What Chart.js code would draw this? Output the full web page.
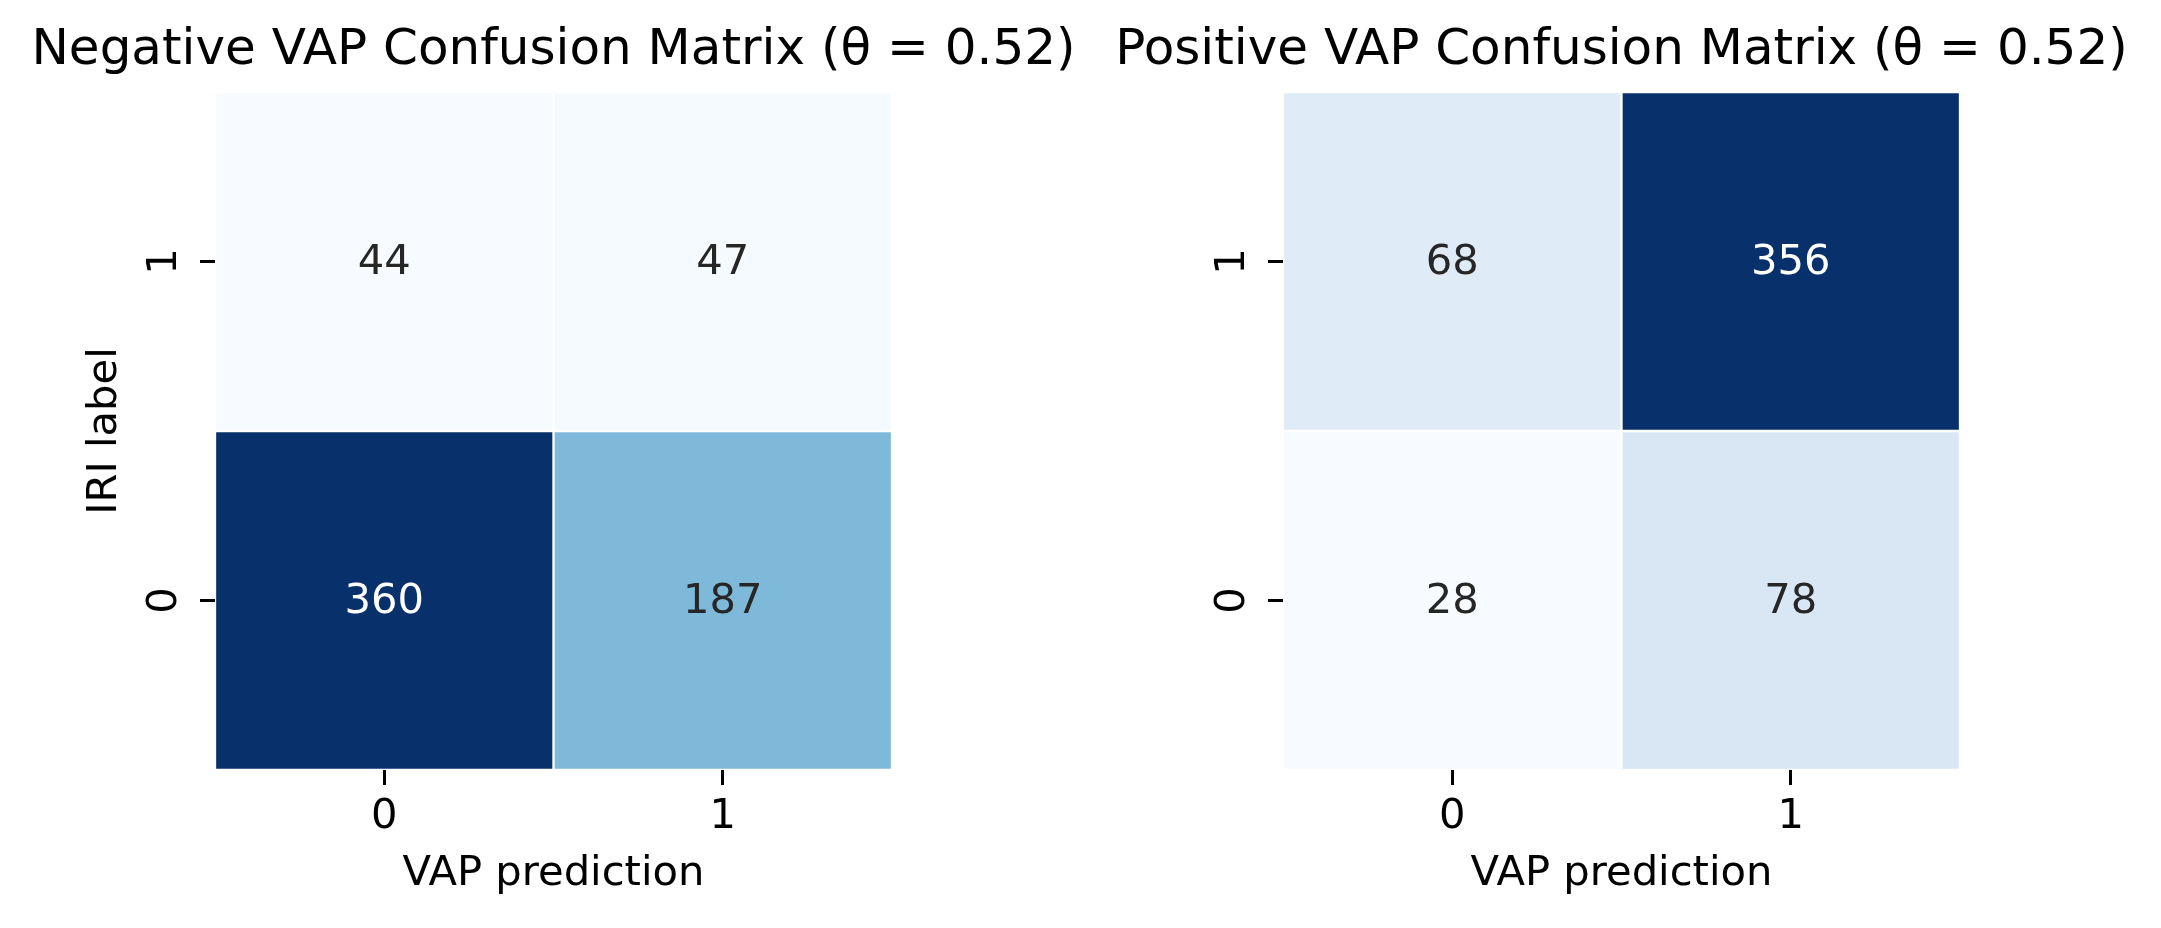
<!DOCTYPE html>
<html>
<head>
<meta charset="utf-8">
<script src="https://cdn.jsdelivr.net/npm/chart.js@4.4.0/dist/chart.umd.min.js"></script>
<style>
  html, body { margin: 0; padding: 0; background: #fff; }
  #page { position: relative; width: 2161px; height: 928px; overflow: hidden; }
  .panel { position: absolute; top: 0; width: 1107px; height: 928px; }
  #neg-panel { left: 0; }
  #pos-panel { left: 1068px; }
</style>
</head>
<body>
<div id="page">
  <div class="panel" id="neg-panel"><canvas id="negChart"></canvas></div>
  <div class="panel" id="pos-panel"><canvas id="posChart"></canvas></div>
</div>

<script>
// categories / tick labels
const predLabels = ['0', '1'];      // x: VAP prediction
const iriLabels = ['0', '1'];       // y: IRI label, bottom row first

// confusion matrix counts, one array per row (IRI label)
const negRow0 = [360, 187];
const negRow1 = [44, 47];
const posRow0 = [28, 78];
const posRow1 = [68, 356];

const negTitle = 'Negative VAP Confusion Matrix (\u03b8 = 0.52)';
const posTitle = 'Positive VAP Confusion Matrix (\u03b8 = 0.52)';

// matplotlib "Blues"
const bluesStops = ['#f7fbff', '#deebf7', '#c6dbef', '#9ecae1', '#6baed6',
                    '#4292c6', '#2171b5', '#08519c', '#08306b'];

function hexToRgb(h) {
    return [parseInt(h.substr(1, 2), 16), parseInt(h.substr(3, 2), 16), parseInt(h.substr(5, 2), 16)];
}

function bluesAt(t) {
    t = Math.max(0, Math.min(1, t));
    const pos = t * (bluesStops.length - 1);
    const i = Math.min(Math.floor(pos), bluesStops.length - 2);
    const f = pos - i;
    const a = hexToRgb(bluesStops[i]), b = hexToRgb(bluesStops[i + 1]);
    return a.map((v, k) => Math.round(v + (b[k] - v) * f));
}

// same rule seaborn uses to pick the annotation colour
function textColorFor(rgb) {
    const lin = rgb.map(c => {
        c = c / 255;
        return c <= 0.03928 ? c / 12.92 : Math.pow((c + 0.055) / 1.055, 2.4);
    });
    const lum = 0.2126 * lin[0] + 0.7152 * lin[1] + 0.0722 * lin[2];
    return lum > 0.408 ? '#262626' : '#ffffff';
}

const FONT = 'DejaVu Sans';

const annotatePlugin = {
    id: 'annotate',
    afterDatasetsDraw(chart) {
        const ctx = chart.ctx;
        ctx.save();
        ctx.font = '41.7px "' + FONT + '"';
        ctx.textAlign = 'center';
        ctx.textBaseline = 'alphabetic';
        chart.data.datasets.forEach((ds, di) => {
            const meta = chart.getDatasetMeta(di);
            meta.data.forEach((bar, i) => {
                const cy = (bar.y + bar.base) / 2;
                ctx.fillStyle = ds.textColors[i];
                ctx.fillText(String(ds.counts[i]), bar.x, cy + 12);
            });
        });
        ctx.restore();
    }
};

function makeMatrix(canvasId, title, rows, showYTitle) {
    const all = rows.flat();
    const vmin = Math.min(...all), vmax = Math.max(...all);

    const datasets = rows.map((row, r) => {
        const colors = row.map(v => bluesAt((v - vmin) / (vmax - vmin)));
        return {
            data: row.map(() => [r, r + 1]),
            counts: row,
            backgroundColor: colors.map(c => 'rgb(' + c.join(',') + ')'),
            textColors: colors.map(textColorFor),
            borderColor: '#ffffff',
            borderWidth: 1.5,
            borderSkipped: false,
            grouped: false,
            barPercentage: 1,
            categoryPercentage: 1
        };
    });

    return new Chart(document.getElementById(canvasId), {
        type: 'bar',
        data: { labels: predLabels, datasets: datasets },
        options: {
            responsive: true,
            maintainAspectRatio: false,
            animation: false,
            layout: { padding: 0 },
            plugins: {
                legend: { display: false },
                tooltip: { enabled: false },
                title: {
                    display: true,
                    text: title,
                    color: '#000',
                    font: { family: FONT, size: 50, weight: 'normal', lineHeight: 1.2 },
                    padding: { top: 21, bottom: 11 }
                }
            },
            scales: {
                x: {
                    type: 'category',
                    offset: true,
                    grid: { offset: false, drawOnChartArea: false, tickLength: 15, tickWidth: 3, tickColor: '#000' },
                    border: { display: false },
                    ticks: { color: '#000', padding: 7, font: { family: FONT, size: 41.7, lineHeight: 1.2 } },
                    title: {
                        display: true, text: 'VAP prediction', color: '#000',
                        font: { family: FONT, size: 41.7, lineHeight: 1.2 },
                        padding: { top: 0, bottom: 29 }
                    },
                    afterFit(scale) { scale.height = 158; }
                },
                y: {
                    type: 'linear',
                    min: 0,
                    max: iriLabels.length,
                    stacked: false,
                    grid: { drawOnChartArea: false, tickLength: 15, tickWidth: 3, tickColor: '#000' },
                    border: { display: false },
                    afterBuildTicks(scale) {
                        scale.ticks = iriLabels.map((l, i) => ({ value: i + 0.5 }));
                    },
                    ticks: {
                        color: '#000',
                        padding: 22,
                        minRotation: 90,
                        maxRotation: 90,
                        crossAlign: 'center',
                        font: { family: FONT, size: 41.7, lineHeight: 1.2 },
                        callback: (v, i) => iriLabels[i]
                    },
                    title: {
                        display: showYTitle, text: 'IRI label', color: '#000',
                        font: { family: FONT, size: 41.7, lineHeight: 1.2 },
                        padding: { top: 80, bottom: 0 }
                    },
                    afterFit(scale) { scale.width = 215; }
                },
                // empty right-hand axis, only reserves space so the title centres over the cells
                spacer: {
                    type: 'linear',
                    position: 'right',
                    display: true,
                    grid: { display: false },
                    border: { display: false },
                    ticks: { display: false },
                    afterFit(scale) { scale.width = 215; }
                }
            }
        },
        plugins: [annotatePlugin]
    });
}

makeMatrix('negChart', negTitle, [negRow0, negRow1], true);
makeMatrix('posChart', posTitle, [posRow0, posRow1], false);
</script>
</body>
</html>
